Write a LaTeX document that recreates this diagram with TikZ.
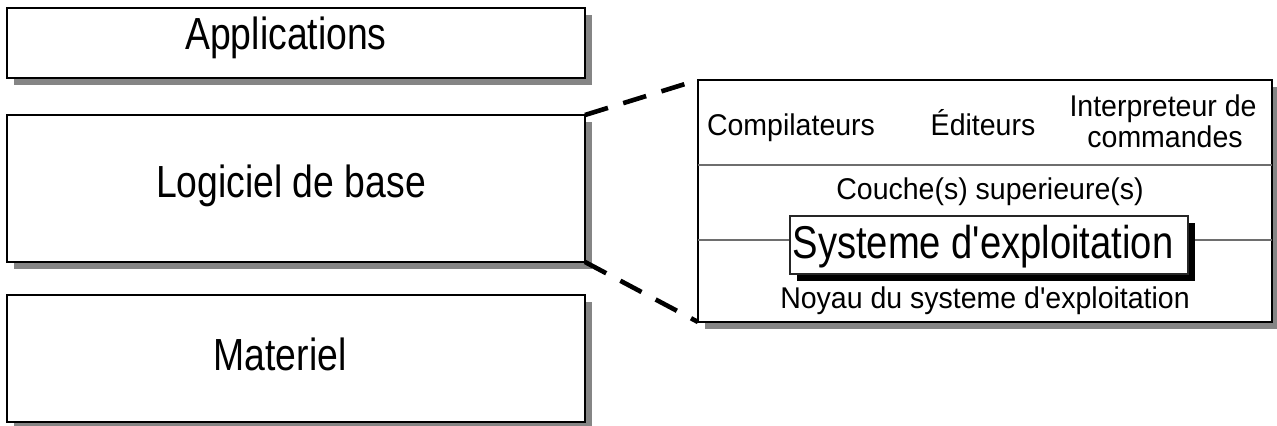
\documentclass[tikz,border=0pt]{standalone}
\usepackage{fontspec}
\setmainfont{Liberation Sans}
\newfontfamily\bigf[FakeStretch=0.83]{Liberation Sans}
\newfontfamily\smallf[FakeStretch=0.95]{Liberation Sans}
\usetikzlibrary{shadows,calc}
\definecolor{shgray}{HTML}{858585}
\definecolor{lngray}{HTML}{6E6E6E}
\begin{document}
\begin{tikzpicture}[x=0.5pt,y=-0.5pt,
  box/.style={draw=black, line width=1pt, fill=white, inner sep=0pt, outer sep=0pt,
    drop shadow={fill=shgray, opacity=1, shadow xshift=3.5pt, shadow yshift=-3.5pt}},
  sebox/.style={draw=black!85, line width=0.8pt, fill=white, inner sep=0pt, outer sep=0pt,
    drop shadow={fill=black, opacity=1, shadow xshift=3.5pt, shadow yshift=-3.5pt}},
  bigtxt/.style={font=\bigf\fontsize{22.5}{26}\selectfont, anchor=base, inner sep=0pt},
  setxt/.style={font=\bigf\fontsize{23}{27}\selectfont, anchor=base, inner sep=0pt},
  smalltxt/.style={font=\smallf\fontsize{15}{18}\selectfont, anchor=base, inner sep=0pt},
  sepline/.style={draw=lngray, line width=1.2pt},
  dashline/.style={line width=2.3pt, dash pattern=on 12pt off 8pt}]
\useasboundingbox (0,0) rectangle (1277,426);
% left stack
\node[box, minimum width=289pt, minimum height=35pt] (app) at (296,43) {};
\node[box, minimum width=289pt, minimum height=73.5pt] (log) at (296,188.5) {};
\node[box, minimum width=289pt, minimum height=63.5pt] (mat) at (296,358.5) {};
\node[bigtxt] (tapp) at (286,50) {Applications};
\node[bigtxt] (tlog) at (291,198) {Logiciel de base};
\node[bigtxt] (tmat) at (280,371) {Materiel};
% right detail box
\node[box, minimum width=287pt, minimum height=121pt] (rb) at (985,201) {};
\draw[sepline] (rb.west |- 0,165) coordinate (s1l) -- (rb.east |- 0,165) coordinate (s1r);
\draw[sepline] (rb.west |- 0,240) coordinate (s2l) -- (rb.east |- 0,240) coordinate (s2r);
\node[smalltxt] (comp) at (791,136) {Compilateurs};
\node[smalltxt] (edit) at (983,136) {Éditeurs};
\node[smalltxt] (interp1) at (1163,117) {Interpreteur de};
\node[smalltxt] (interp2) at (1165,148) {commandes};
\node[smalltxt] (couche) at (990,200) {Couche(s) superieure(s)};
\node[sebox, minimum width=199pt, minimum height=29pt] (se) at (989,245) {};
\node[setxt] (tse) at (983,259) {Systeme d'exploitation};
\node[smalltxt] (noyau) at (985,309) {Noyau du systeme d'exploitation};
% zoom connectors
\draw[dashline] (log.north east) -- (rb.north west);
\draw[dashline] (log.south east) -- (rb.south west);
\end{tikzpicture}
\end{document}
